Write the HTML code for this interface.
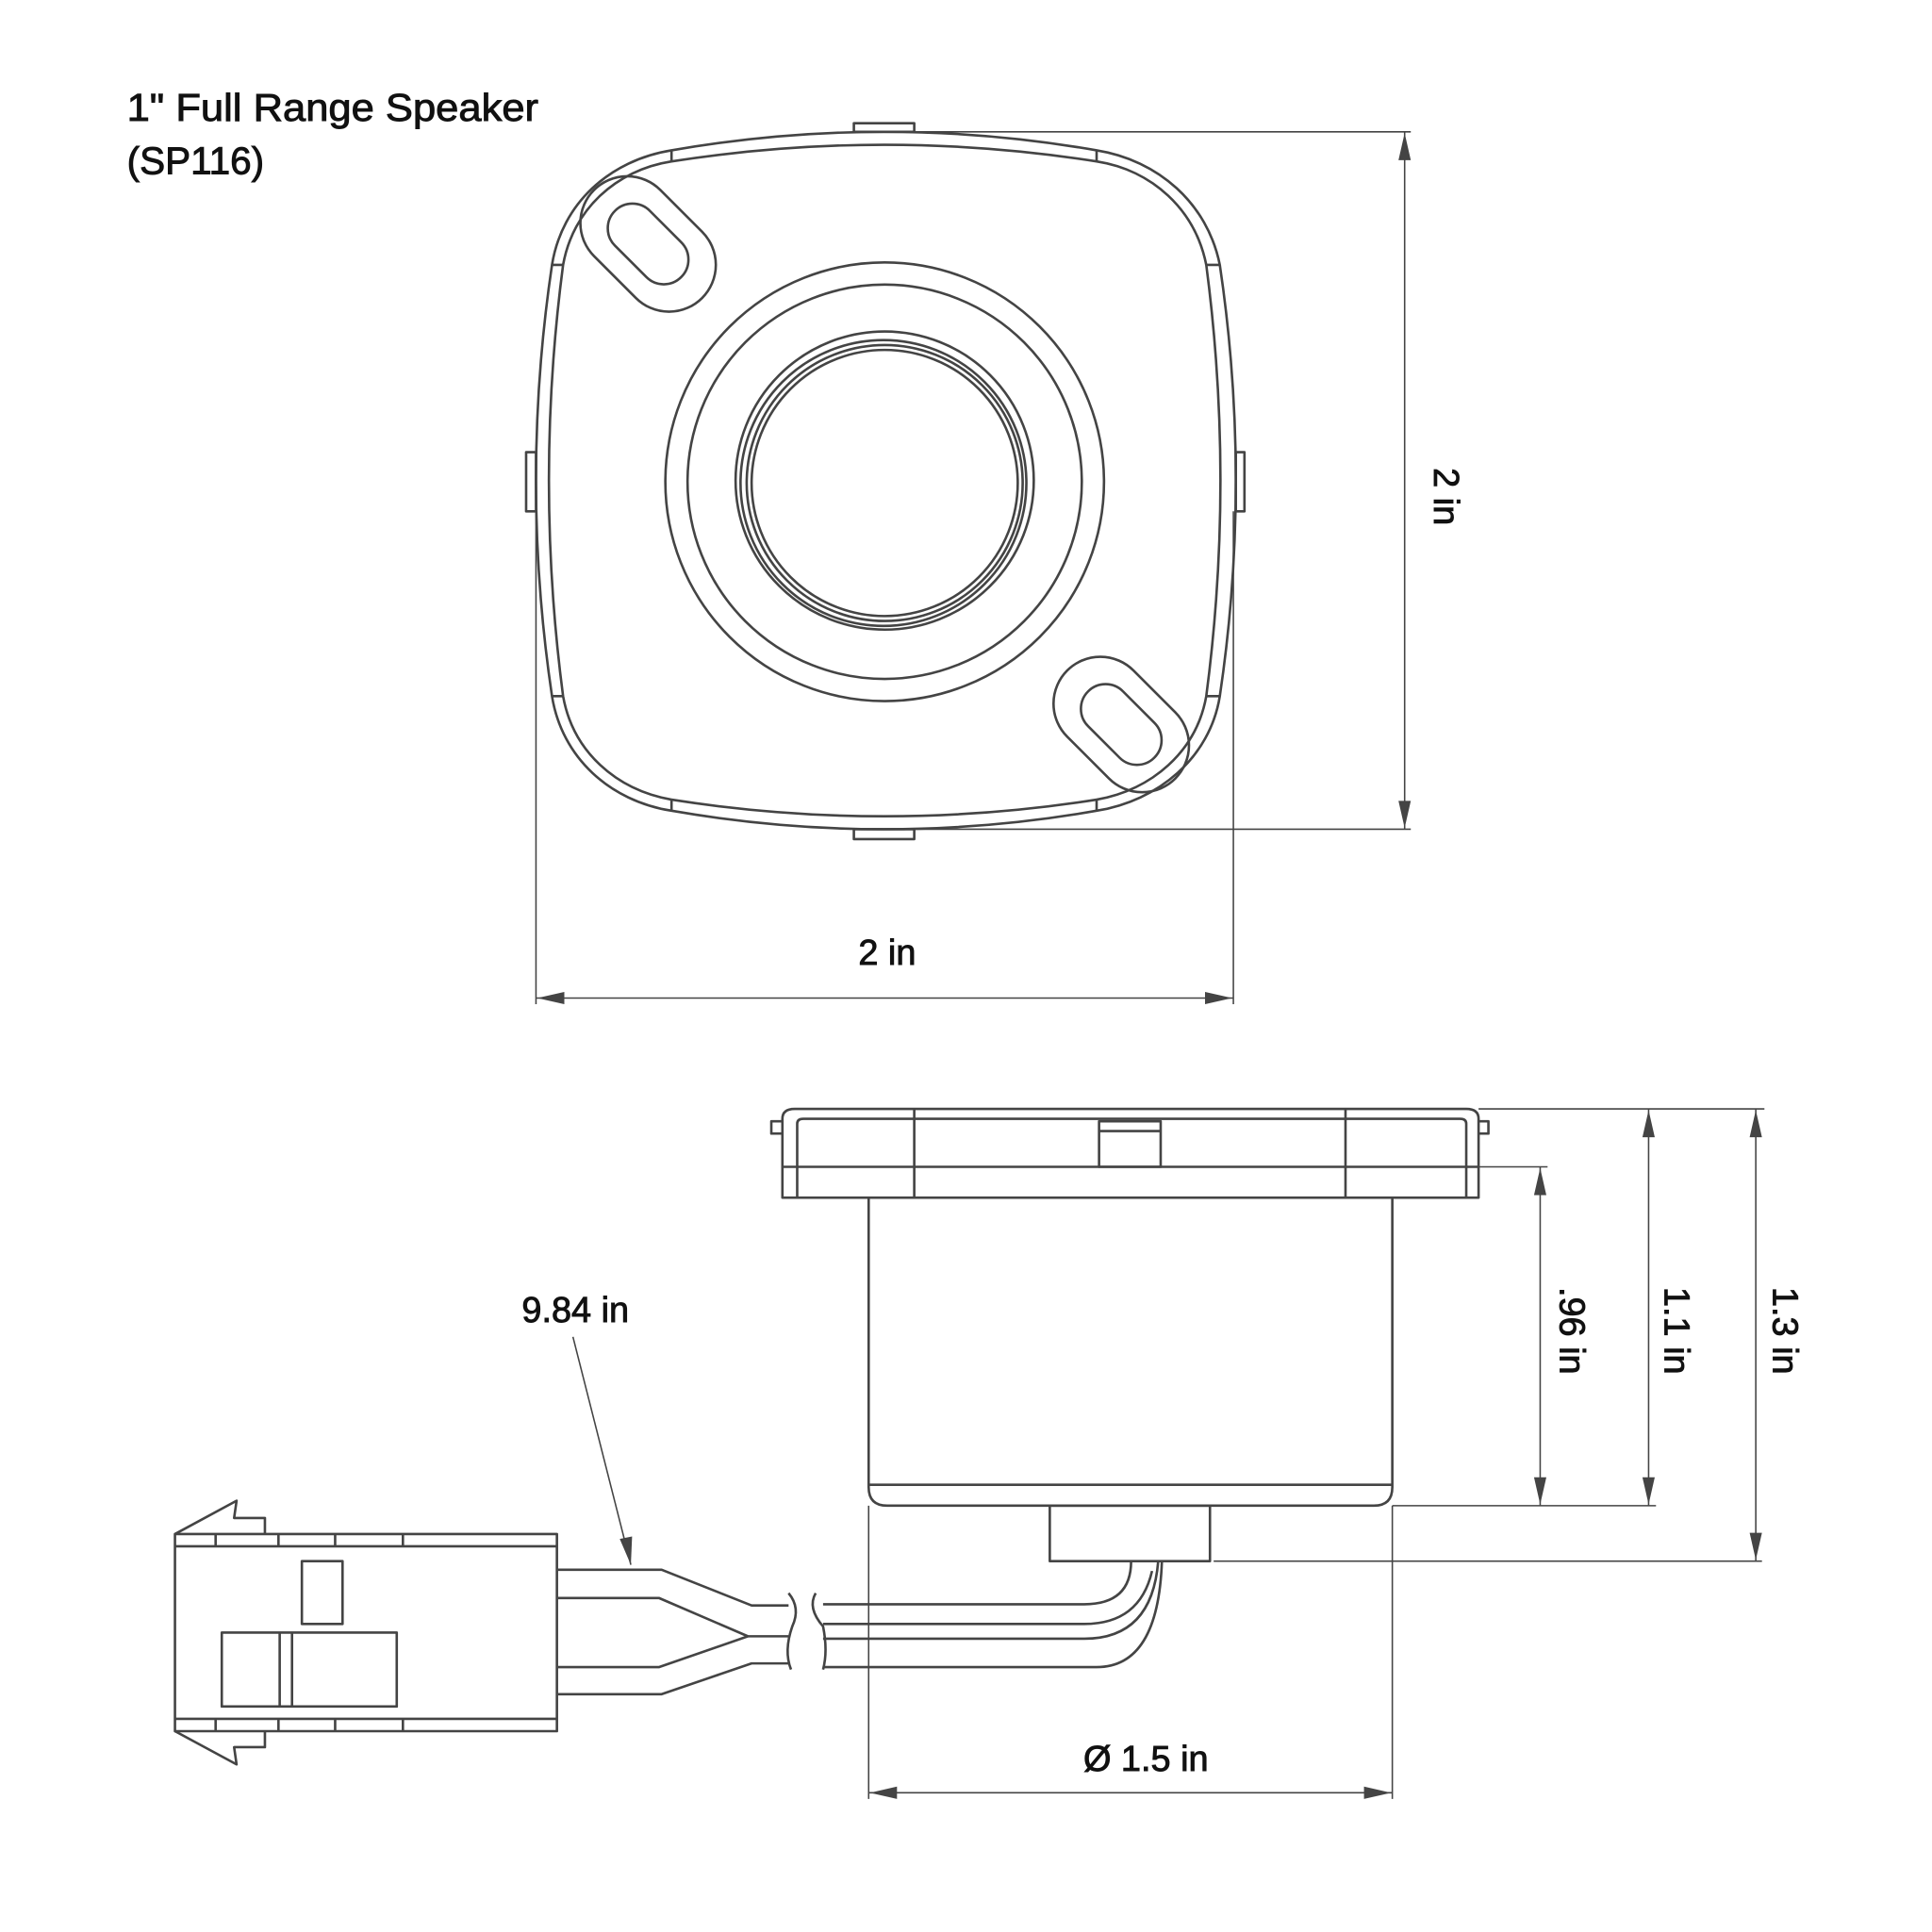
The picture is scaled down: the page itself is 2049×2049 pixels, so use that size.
<!DOCTYPE html>
<html><head><meta charset="utf-8"><style>
html,body{margin:0;padding:0;background:#fff}
svg{display:block}
text{font-family:"Liberation Sans",sans-serif;fill:#111}
.d{stroke:#111;stroke-width:0.7}
</style></head><body>
<svg width="2049" height="2049" viewBox="0 0 1568 1568" xmlns="http://www.w3.org/2000/svg">
<g fill="none" stroke="#444" stroke-width="2" stroke-linejoin="round">
<path d="M545,122 Q718,92 890,122 C940,130 980,165 990,215 Q1016,390 990,565 C982,615 940,650 890,658 Q718,688 545,658 C495,650 456,615 448,565 Q422,390 448,215 C456,165 495,130 545,122 Z"/>
<path d="M545,131 Q718,104 890,131 C935,138 970,170 979,215 Q1002,390 979,565 C971,610 935,641 890,649 Q718,676 545,649 C500,641 465,610 457,565 Q434,390 457,215 C465,170 500,138 545,131 Z"/>
<path d="M890,122 L890,131 M545,122 L545,131 M890,649 L890,658 M545,649 L545,658 M448,215 L457,215 M979,215 L990,215 M448,565 L457,565 M979,565 L990,565"/>
<rect x="693" y="100" width="49" height="7"/>
<rect x="693" y="673" width="49" height="8"/>
<rect x="427" y="367" width="8" height="48"/>
<rect x="1003" y="367" width="7" height="48"/>
<g transform="translate(526,198) rotate(45)">
<rect x="-62" y="-38" width="124" height="76" rx="38"/>
<rect x="-38" y="-20" width="76" height="40" rx="20"/>
</g>
<g transform="translate(910,588) rotate(45)">
<rect x="-62" y="-38" width="124" height="76" rx="38"/>
<rect x="-38" y="-20" width="76" height="40" rx="20"/>
</g>
<circle cx="718" cy="391" r="178"/>
<circle cx="718" cy="391" r="160"/>
<circle cx="718" cy="390" r="121"/>
<circle cx="717" cy="392" r="116"/>
<circle cx="718" cy="392" r="112"/>
<circle cx="718" cy="392" r="108"/>
</g>
<g fill="none" stroke="#444" stroke-width="1.2">
<path d="M742,107 L1145,107 M742,673 L1145,673 M1140,107 L1140,673"/>
<path d="M435,415 L435,815 M1001,415 L1001,815 M435,810 L1001,810"/>
</g>
<g fill="#444">
<polygon points="1140,108 1135,130 1145,130"/>
<polygon points="1140,672 1135,650 1145,650"/>
<polygon points="436,810 458,805 458,815"/>
<polygon points="1000,810 978,805 978,815"/>
</g>
<text x="103" y="98" font-size="31" class="d" textLength="334" lengthAdjust="spacingAndGlyphs">1" Full Range Speaker</text>
<text x="103" y="141" font-size="31" class="d">(SP116)</text>
<text x="720" y="783" font-size="29" text-anchor="middle" class="d">2 in</text>
<text transform="translate(1164,403) rotate(90)" font-size="29" text-anchor="middle" class="d">2 in</text>

<g fill="none" stroke="#444" stroke-width="2" stroke-linejoin="round">
<path d="M635,972 L635,908 Q635,900 645,900 L1190,900 Q1200,900 1200,908 L1200,972 Z"/>
<path d="M647,972 L647,912 Q647,908 652,908 L1185,908 Q1190,908 1190,912 L1190,972"/>
<path d="M635,947 L1200,947 M742,900 L742,972 M1092,900 L1092,972"/>
<rect x="892" y="910" width="50" height="37"/>
<path d="M892,918 L942,918"/>
<path d="M635,910 L626,910 L626,920 L635,920 M1200,910 L1208,910 L1208,920 L1200,920"/>
<path d="M705,972 L705,1207 Q705,1222 720,1222 L1115,1222 Q1130,1222 1130,1207 L1130,972"/>
<path d="M705,1205 L1130,1205"/>
<rect x="852" y="1222" width="130" height="45"/>
<path d="M668,1302 L880,1302 Q918,1302 918,1267"/>
<path d="M668,1318 L880,1318 Q925,1318 935,1275"/>
<path d="M668,1330 L880,1330 Q935,1330 940,1267"/>
<path d="M668,1353 L890,1353 Q940,1353 943,1267"/>
<path d="M640,1293 Q650,1305 643,1320 Q636,1340 642,1355"/>
<path d="M662,1293 Q655,1305 668,1320 Q672,1340 668,1355"/>
<path d="M453,1274 L537,1274 L610,1303 L640,1303"/>
<path d="M453,1297 L535,1297 L607,1328 L640,1328"/>
<path d="M453,1353 L535,1353 L607,1328"/>
<path d="M453,1375 L537,1375 L610,1350 L640,1350"/>
<rect x="142" y="1245" width="310" height="160"/>
<path d="M142,1255 L452,1255 M142,1395 L452,1395"/>
<path d="M175,1245 L175,1255 M226,1245 L226,1255 M272,1245 L272,1255 M327,1245 L327,1255"/>
<path d="M175,1395 L175,1405 M226,1395 L226,1405 M272,1395 L272,1405 M327,1395 L327,1405"/>
<path d="M142,1245 L192,1218 L190,1232 L215,1232 L215,1245"/>
<path d="M142,1405 L192,1432 L190,1418 L215,1418 L215,1405"/>
<rect x="245" y="1267" width="33" height="51"/>
<rect x="180" y="1325" width="142" height="60"/>
<path d="M227,1325 L227,1385 M237,1325 L237,1385"/>
</g>
<g fill="none" stroke="#444" stroke-width="1.2">
<path d="M1200,900 L1432,900 M1200,947 L1256,947 M1130,1222 L1344,1222 M985,1267 L1430,1267"/>
<path d="M1250,947 L1250,1222 M1338,900 L1338,1222 M1425,900 L1425,1267"/>
<path d="M705,1222 L705,1460 M1130,1222 L1130,1460 M705,1455 L1130,1455"/>
<path d="M465,1085 L512,1270"/>
</g>
<g fill="#444">
<polygon points="1250,948 1245,970 1255,970"/>
<polygon points="1250,1221 1245,1199 1255,1199"/>
<polygon points="1338,901 1333,923 1343,923"/>
<polygon points="1338,1221 1333,1199 1343,1199"/>
<polygon points="1425,901 1420,923 1430,923"/>
<polygon points="1425,1266 1420,1244 1430,1244"/>
<polygon points="706,1455 728,1450 728,1460"/>
<polygon points="1129,1455 1107,1450 1107,1460"/>
<polygon points="512,1270 503,1249 513,1247"/>
</g>
<text x="467" y="1073" font-size="29" text-anchor="middle" class="d">9.84 in</text>
<text x="930" y="1437" font-size="29" text-anchor="middle" class="d">Ø 1.5 in</text>
<text transform="translate(1266,1080) rotate(90)" font-size="29" text-anchor="middle" class="d">.96 in</text>
<text transform="translate(1351,1080) rotate(90)" font-size="29" text-anchor="middle" class="d">1.1 in</text>
<text transform="translate(1439,1080) rotate(90)" font-size="29" text-anchor="middle" class="d">1.3 in</text>
</svg>
</body></html>
